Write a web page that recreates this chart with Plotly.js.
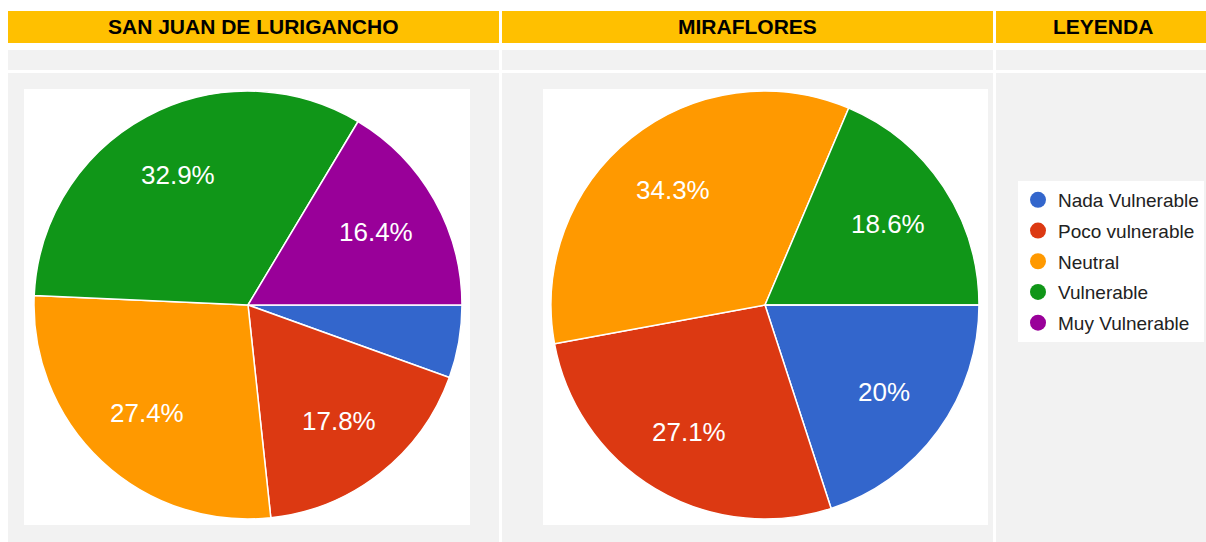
<!DOCTYPE html>
<html>
<head>
<meta charset="utf-8">
<script src="https://cdn.plot.ly/plotly-3.0.1.min.js"></script>
<style>html,body{margin:0;padding:0;background:#fff;}#chart{width:1206px;height:542px;}</style>
</head>
<body>
<div id="chart"></div>
<script>
// ---- data ----
const categories = ['Nada Vulnerable', 'Poco vulnerable', 'Neutral', 'Vulnerable', 'Muy Vulnerable'];
const sjlValues = [5.5, 17.8, 27.4, 32.9, 16.4];
const mirValues = [20, 27.1, 34.3, 18.6, 0];
const sliceColors = ['#3366CC', '#DC3912', '#FF9900', '#109618', '#990099'];
const headerTitles = ['SAN JUAN DE LURIGANCHO', 'MIRAFLORES', 'LEYENDA'];

// ---- layout helpers ----
const W = 1206, H = 542;
const px = x => x / W;
const py = y => 1 - y / H;
const FONT = 'Liberation Sans, Arial, sans-serif';
const ROTATION = 90;

const cols = [[8, 499], [502, 993], [996, 1214]];
const shapes = [];
function rect(x0, x1, y0, y1, color) {
  shapes.push({type: 'rect', xref: 'paper', yref: 'paper', x0: px(x0), x1: px(x1), y0: py(y1), y1: py(y0),
    fillcolor: color, line: {width: 0}, layer: 'below'});
}
cols.forEach(c => {
  rect(c[0], c[1], 11, 43, '#FFC000');
  rect(c[0], c[1], 50, 70, '#F2F2F2');
  rect(c[0], c[1], 73, 560, '#F2F2F2');
});
rect(24, 470, 89, 525, '#FFFFFF');
rect(543, 988, 89, 525, '#FFFFFF');

const annotations = headerTitles.map((t, i) => ({
  text: '<b>' + t + '</b>', xref: 'paper', yref: 'paper',
  x: px((cols[i][0] + Math.min(cols[i][1], 1210)) / 2), y: py(27),
  xanchor: 'center', yanchor: 'middle', showarrow: false,
  font: {family: FONT, size: 21, color: '#000000'}
}));

function fmt(v) { return (Math.round(v * 10) / 10).toString() + '%'; }

// slice labels placed on each slice's mid-angle, derived from the values
function addSliceLabels(values, cx, cy, r) {
  const total = values.reduce((a, b) => a + b, 0);
  let cum = 0;
  values.forEach(v => {
    const mid = (ROTATION + 360 * (cum + v / 2) / total) * Math.PI / 180;
    cum += v;
    if (v < 6) return;
    const lr = r * 0.69;
    annotations.push({
      text: fmt(v), xref: 'paper', yref: 'paper',
      x: px(cx + lr * Math.sin(mid)), y: py(cy - lr * Math.cos(mid)),
      xanchor: 'center', yanchor: 'middle', showarrow: false,
      font: {family: FONT, size: 26, color: '#FFFFFF'}
    });
  });
}

function pieTrace(values, x0, x1, y0, y1) {
  addSliceLabels(values, (x0 + x1) / 2, (y0 + y1) / 2, (x1 - x0) / 2);
  return {
    type: 'pie', values: values, labels: categories, sort: false,
    direction: 'clockwise', rotation: ROTATION,
    marker: {colors: sliceColors, line: {color: '#FFFFFF', width: 1.5}},
    textinfo: 'none',
    hoverinfo: 'none', showlegend: false,
    domain: {x: [px(x0), px(x1)], y: [py(y1), py(y0)]}
  };
}

const traces = [
  pieTrace(sjlValues, 34, 462, 91, 519),
  pieTrace(mirValues, 551, 979, 91, 519)
];
categories.forEach((c, i) => {
  traces.push({
    type: 'scatter', mode: 'markers', x: [null], y: [null], name: c,
    legendgroup: 'g' + i, showlegend: true, hoverinfo: 'none',
    marker: {color: sliceColors[i], size: 16, symbol: 'circle'}
  });
});

const layout = {
  width: W, height: H, margin: {l: 0, r: 0, t: 0, b: 0},
  paper_bgcolor: '#FFFFFF', plot_bgcolor: 'rgba(0,0,0,0)',
  xaxis: {visible: false, range: [0, 1]}, yaxis: {visible: false, range: [0, 1]},
  shapes: shapes, annotations: annotations,
  showlegend: true,
  legend: {x: px(1018), y: py(181), xanchor: 'left', yanchor: 'top',
    bgcolor: '#FFFFFF', borderwidth: 0, tracegroupgap: 3, itemwidth: 30,
    font: {family: FONT, size: 19, color: '#222222'}}
};

Plotly.newPlot('chart', traces, layout, {displayModeBar: false, staticPlot: true});
</script>
</body>
</html>
